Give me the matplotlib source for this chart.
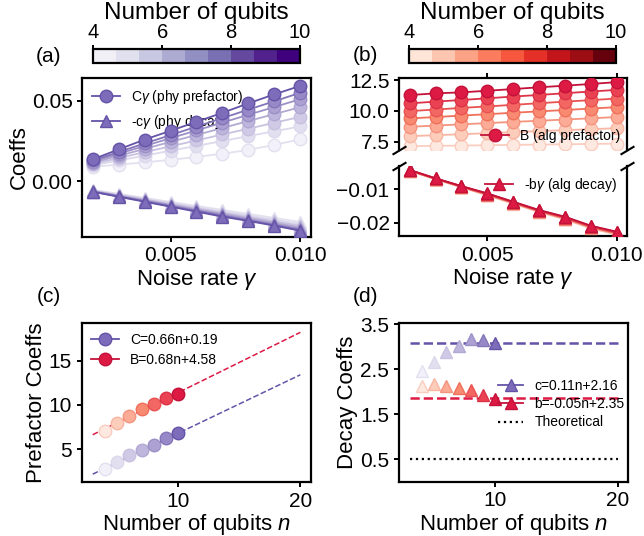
import numpy as np
import matplotlib
matplotlib.use("Agg")
import matplotlib.pyplot as plt
from matplotlib.colors import ListedColormap, Normalize, LinearSegmentedColormap, to_rgb
from matplotlib.cm import ScalarMappable
from matplotlib.lines import Line2D
from matplotlib.ticker import MultipleLocator

plt.rcParams['font.family'] = ['Liberation Sans', 'DejaVu Sans']
plt.rcParams['mathtext.fontset'] = 'custom'
plt.rcParams['mathtext.rm'] = 'Liberation Sans'
plt.rcParams['mathtext.it'] = 'Liberation Sans:italic'
plt.rcParams['axes.linewidth'] = 1.6
plt.rcParams['xtick.major.width'] = 1.4
plt.rcParams['ytick.major.width'] = 1.4
plt.rcParams['xtick.labelsize'] = 15
plt.rcParams['ytick.labelsize'] = 15
plt.rcParams['axes.labelpad'] = 1.0

# ---- data ----
gamma = [0.002, 0.003, 0.004, 0.005, 0.006, 0.007, 0.008, 0.009, 0.010]
n_qubits = [4, 5, 6, 7, 8, 9, 10]

# (a) C*gamma, one row per n (4..10)
phy_pref = [
    [0.0089, 0.0102, 0.0116, 0.0132, 0.0150, 0.0170, 0.0194, 0.0225, 0.0260],
    [0.0098, 0.0128, 0.0158, 0.0189, 0.0219, 0.0249, 0.0280, 0.0310, 0.0340],
    [0.0106, 0.0143, 0.0180, 0.0216, 0.0253, 0.0290, 0.0326, 0.0363, 0.0400],
    [0.0114, 0.0157, 0.0200, 0.0244, 0.0287, 0.0330, 0.0374, 0.0417, 0.0460],
    [0.0121, 0.0170, 0.0218, 0.0267, 0.0315, 0.0364, 0.0413, 0.0461, 0.0510],
    [0.0128, 0.0181, 0.0234, 0.0286, 0.0339, 0.0392, 0.0445, 0.0497, 0.0550],
    [0.0135, 0.0197, 0.0258, 0.0313, 0.0369, 0.0425, 0.0484, 0.0540, 0.0593],
]
# (a) -c*gamma
phy_decay = [
    [-0.0055, -0.0080, -0.0105, -0.0130, -0.0155, -0.0180, -0.0205, -0.0230, -0.0255],
    [-0.0058, -0.0084, -0.0110, -0.0137, -0.0163, -0.0189, -0.0215, -0.0241, -0.0268],
    [-0.0061, -0.0088, -0.0115, -0.0143, -0.0170, -0.0197, -0.0224, -0.0251, -0.0279],
    [-0.0063, -0.0091, -0.0119, -0.0148, -0.0176, -0.0204, -0.0232, -0.0260, -0.0289],
    [-0.0065, -0.0094, -0.0123, -0.0153, -0.0182, -0.0211, -0.0240, -0.0269, -0.0298],
    [-0.0066, -0.0096, -0.0126, -0.0157, -0.0186, -0.0216, -0.0245, -0.0274, -0.0305],
    [-0.0067, -0.0098, -0.0129, -0.0160, -0.0191, -0.0222, -0.0249, -0.0278, -0.0310],
]
# (b) B
alg_pref = [
    [7.14, 7.17, 7.19, 7.22, 7.25, 7.27, 7.30, 7.32, 7.35],
    [7.95, 8.03, 8.11, 8.19, 8.28, 8.36, 8.44, 8.52, 8.60],
    [8.71, 8.81, 8.91, 9.01, 9.11, 9.20, 9.30, 9.40, 9.50],
    [9.39, 9.50, 9.62, 9.73, 9.85, 9.96, 10.07, 10.19, 10.30],
    [9.98, 10.11, 10.24, 10.36, 10.49, 10.62, 10.75, 10.87, 11.00],
    [10.61, 10.75, 10.88, 11.02, 11.16, 11.29, 11.43, 11.57, 11.70],
    [11.28, 11.42, 11.50, 11.63, 11.77, 11.91, 12.04, 12.18, 12.33],
]
# (b) -b*gamma
alg_decay = [
    [-0.0045, -0.0070, -0.0094, -0.0118, -0.0143, -0.0168, -0.0190, -0.0217, -0.0236],
    [-0.0044, -0.0069, -0.0093, -0.0117, -0.0142, -0.0167, -0.0189, -0.0216, -0.0235],
    [-0.0044, -0.0069, -0.0093, -0.0116, -0.0141, -0.0166, -0.0188, -0.0214, -0.0233],
    [-0.0043, -0.0068, -0.0092, -0.0115, -0.0140, -0.0165, -0.0186, -0.0213, -0.0232],
    [-0.0043, -0.0068, -0.0091, -0.0114, -0.0139, -0.0164, -0.0185, -0.0212, -0.0230],
    [-0.0042, -0.0067, -0.0091, -0.0113, -0.0138, -0.0163, -0.0184, -0.0210, -0.0229],
    [-0.0042, -0.0067, -0.0090, -0.0112, -0.0137, -0.0162, -0.0182, -0.0209, -0.0227],
]

# (c) prefactor coefficients vs n
C_coef = [2.70, 3.50, 4.32, 4.89, 5.45, 6.20, 6.77]
B_coef = [7.07, 8.00, 8.76, 9.48, 10.08, 10.72, 11.20]
fit_n = [3, 20]
C_fit = [2.17, 13.39]
B_fit = [6.62, 18.18]

# (d) decay coefficients vs n
c_coef = [2.46, 2.66, 2.88, 3.02, 3.16, 3.14, 3.08]
b_coef = [2.12, 2.16, 2.13, 2.08, 2.03, 1.93, 1.83]
c_level = 3.07
b_level = 1.86
theory_level = 0.5

# ---- colours ----
purple = '#7d6cb9'
purple_edge = '#6553a8'
red = '#dc1a44'
red_edge = '#c3123a'
shade = [0.10, 0.22, 0.36, 0.50, 0.64, 0.80, 1.0]


def blend(base, t):
    return tuple(1 - t * (1 - c) for c in to_rgb(base))


red_map = LinearSegmentedColormap.from_list(
    'redramp', ['#ffffff', '#fdc6b2', '#f98a72', '#ee4b57', red])
red_edge_map = LinearSegmentedColormap.from_list(
    'redramp_e', ['#fbe0d8', '#f8b09c', '#f0705a', '#e23a4c', red_edge])

p_face = [blend(purple, t) for t in shade]
p_edge = [blend(purple_edge, max(t, 0.18)) for t in shade]
r_face = [red_map(t) for t in shade]
r_edge = [red_edge_map(t) for t in shade]

fig = plt.figure(figsize=(6.44, 5.36), dpi=100)

ax_a = fig.add_axes([0.1278, 0.5584, 0.3546, 0.2955])
ax_bt = fig.add_axes([0.620, 0.7201, 0.3536, 0.1343])
ax_bb = fig.add_axes([0.620, 0.5597, 0.3536, 0.1306])
ax_c = fig.add_axes([0.1269, 0.1007, 0.3556, 0.2961])
ax_d = fig.add_axes([0.6191, 0.1013, 0.3561, 0.2967])

ms = 9
lw = 1.3

# (a)
for i, n in enumerate(n_qubits):
    lab1 = r'C$\gamma$ (phy prefactor)' if n == 10 else None
    lab2 = r'-c$\gamma$ (phy decay)' if n == 10 else None
    ax_a.plot(gamma, phy_pref[i], '-o', color=p_edge[i], mfc=p_face[i], mec=p_edge[i],
              ms=ms, lw=lw, label=lab1, zorder=2 + i)
    ax_a.plot(gamma, phy_decay[i], '-^', color=p_edge[i], mfc=p_face[i], mec=p_edge[i],
              ms=ms, lw=lw, label=lab2, zorder=2 + i)
ax_a.xaxis.set_major_locator(MultipleLocator(0.005))
ax_a.yaxis.set_major_locator(MultipleLocator(0.05))
ax_a.set_ylim(-0.0347, 0.064)
ax_a.set_xlabel(r'Noise rate $\gamma$', fontsize=16)
ax_a.set_ylabel('Coeffs', fontsize=16)
ax_a.legend(loc='upper left', frameon=False, fontsize=10, borderaxespad=0.3)

# (b) broken axis
for i, n in enumerate(n_qubits):
    lab1 = 'B (alg prefactor)' if n == 10 else None
    lab2 = r'-b$\gamma$ (alg decay)' if n == 10 else None
    ax_bt.plot(gamma, alg_pref[i], '-o', color=r_edge[i], mfc=r_face[i], mec=r_edge[i],
               ms=ms, lw=lw, label=lab1, zorder=2 + i)
    ax_bb.plot(gamma, alg_decay[i], '-^', color=r_edge[i], mfc=r_face[i], mec=r_edge[i],
               ms=ms, lw=lw, label=lab2, zorder=2 + i)
ax_bt.set_ylim(6.83, 12.66)
ax_bb.set_ylim(-0.024, -0.003)
ax_bt.set_xlim(ax_bb.get_xlim())
ax_bt.yaxis.set_major_locator(MultipleLocator(2.5))
ax_bb.yaxis.set_major_locator(MultipleLocator(0.01))
for ax in (ax_bt, ax_bb):
    ax.xaxis.set_major_locator(MultipleLocator(0.005))
ax_bt.spines['bottom'].set_visible(False)
ax_bb.spines['top'].set_visible(False)
ax_bt.xaxis.tick_top()
ax_bt.tick_params(labeltop=False)
ax_bb.xaxis.tick_bottom()
d = 0.6
kw = dict(marker=[(-1, -d), (1, d)], markersize=10, linestyle='none',
          color='k', mec='k', mew=1.5, clip_on=False)
ax_bt.plot([0, 1], [0, 0], transform=ax_bt.transAxes, **kw)
ax_bb.plot([0, 1], [1, 1], transform=ax_bb.transAxes, **kw)
ax_bb.set_xlabel(r'Noise rate $\gamma$', fontsize=16)
ax_bt.legend(loc='lower right', frameon=False, fontsize=10, borderaxespad=0.1)
ax_bb.legend(loc='upper right', frameon=False, fontsize=10, borderaxespad=0.3)

# (c)
ax_c.plot(fit_n, C_fit, '--', color=purple_edge, lw=1.1, zorder=1)
ax_c.plot(fit_n, B_fit, '--', color=red, lw=1.1, zorder=1)
for i, n in enumerate(n_qubits):
    ax_c.plot([n], [C_coef[i]], 'o', mfc=p_face[i], mec=p_edge[i], ms=ms, zorder=3)
    ax_c.plot([n], [B_coef[i]], 'o', mfc=r_face[i], mec=r_edge[i], ms=ms, zorder=3)
h_c = [Line2D([], [], color=purple_edge, marker='o', mfc=purple, mec=purple_edge, ms=ms, lw=lw),
       Line2D([], [], color=red_edge, marker='o', mfc=red, mec=red_edge, ms=ms, lw=lw)]
ax_c.legend(h_c, ['C=0.66n+0.19', 'B=0.68n+4.58'], loc='upper left', frameon=False,
            fontsize=10, borderaxespad=0.3, labelspacing=0.4)
ax_c.xaxis.set_major_locator(MultipleLocator(10))
ax_c.yaxis.set_major_locator(MultipleLocator(5))
ax_c.set_xlim(2.1, 20.85)
ax_c.set_ylim(1.28, 19.2)
ax_c.set_xlabel('Number of qubits $n$', fontsize=16)
ax_c.set_ylabel('Prefactor Coeffs', fontsize=16)

# (d)
ax_d.plot(fit_n, [c_level, c_level], '--', color=purple_edge, lw=1.8, zorder=1)
ax_d.plot(fit_n, [b_level, b_level], '--', color=red, lw=1.8, zorder=1)
ax_d.plot(fit_n, [theory_level, theory_level], ':', color='k', lw=1.6, zorder=1)
for i, n in enumerate(n_qubits):
    ax_d.plot([n], [c_coef[i]], '^', mfc=p_face[i], mec=p_edge[i], ms=ms, zorder=3)
    ax_d.plot([n], [b_coef[i]], '^', mfc=r_face[i], mec=r_edge[i], ms=ms, zorder=3)
h_d = [Line2D([], [], color=purple_edge, marker='^', mfc=purple, mec=purple_edge, ms=ms, lw=lw),
       Line2D([], [], color=red_edge, marker='^', mfc=red, mec=red_edge, ms=ms, lw=lw),
       Line2D([], [], color='k', ls=':', lw=1.6)]
ax_d.legend(h_d, ['c=0.11n+2.16', 'b=-0.05n+2.35', 'Theoretical'], loc='lower right',
            bbox_to_anchor=(1.04, 0.25), frameon=False, fontsize=10, labelspacing=0.3,
            handlelength=1.8)
ax_d.xaxis.set_major_locator(MultipleLocator(10))
ax_d.set_yticks([0.5, 1.5, 2.5, 3.5])
ax_d.set_xlim(2.1, 20.85)
ax_d.set_ylim(0, 3.53)
ax_d.set_xlabel('Number of qubits $n$', fontsize=16)
ax_d.set_ylabel('Decay Coeffs', fontsize=16)

# colorbars
norm = Normalize(4, 10)
cb_specs = [(0.1449, plt.cm.Purples), (0.6356, plt.cm.Reds)]
for x0, cm in cb_specs:
    cax = fig.add_axes([x0, 0.883, 0.321, 0.025])
    cmap = ListedColormap(cm(np.linspace(0.1, 1.0, 9)))
    cb = fig.colorbar(ScalarMappable(norm=norm, cmap=cmap), cax=cax, orientation='horizontal')
    cb.set_ticks([4, 6, 8, 10])
    cax.xaxis.set_ticks_position('top')
    cax.xaxis.set_label_position('top')
    cb.outline.set_linewidth(1.6)
    cax.tick_params(labelsize=14.5, width=1.4, length=3, pad=2)
    cb.set_label('Number of qubits', fontsize=17.5, labelpad=3)

fig.text(0.076, 0.894, '(a)', fontsize=15, ha='center', va='center')
fig.text(0.567, 0.897, '(b)', fontsize=15, ha='center', va='center')
fig.text(0.076, 0.447, '(c)', fontsize=15, ha='center', va='center')
fig.text(0.568, 0.447, '(d)', fontsize=15, ha='center', va='center')

fig.savefig('out.png', dpi=100)
